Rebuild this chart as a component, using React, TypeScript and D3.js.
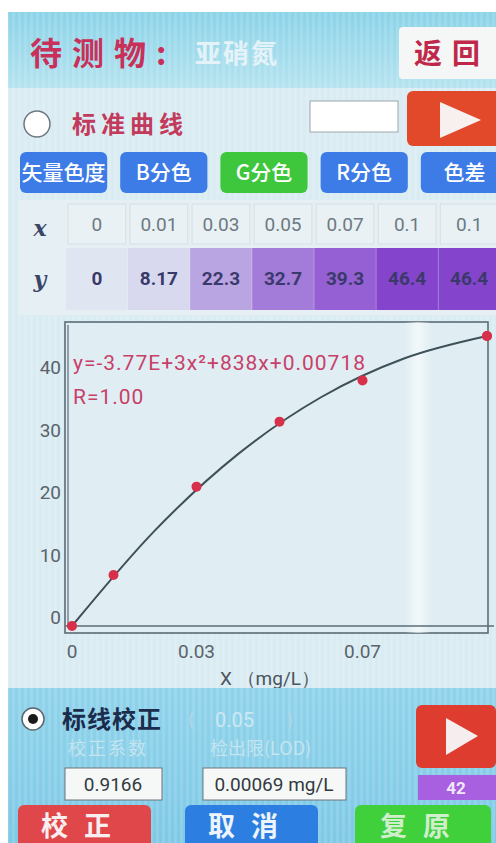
import React from 'react';
import * as d3 from 'd3';

// standard-curve data as shown in the table
const xLabels = ['0', '0.01', '0.03', '0.05', '0.07', '0.1', '0.1'];
const xValues = [0, 0.01, 0.03, 0.05, 0.07, 0.1, 0.1];
const yValues = [0, 8.17, 22.3, 32.7, 39.3, 46.4, 46.4];
const yLabels = ['0', '8.17', '22.3', '32.7', '39.3', '46.4', '46.4'];
// fitted curve
const fitX = [0, 0.02, 0.04, 0.06, 0.08, 0.1];
const fitY = [0, 15.3, 27.5, 36.6, 42.8, 46.4];
const yTicks = [0, 10, 20, 30, 40];
const xTicks = [0, 0.03, 0.07];
const modeButtons = ['矢量色度', 'B分色', 'G分色', 'R分色', '色差'];
const activeMode = 'G分色';

const CJK = '"Noto Sans CJK SC", "Noto Sans", sans-serif';
const NUM = 'Roboto, "Noto Sans", sans-serif';

const App = () => {
  const x = d3.scaleLinear().domain([0, 0.1]).range([72, 487]);
  const y = d3.scaleLinear().domain([0, 46.4]).range([626, 336]);

  const fitPts: [number, number][] = fitX.map((v, i) => [v, fitY[i]]);
  const line = d3.line<[number, number]>()
    .x(d => x(d[0]))
    .y(d => y(d[1]))
    .curve(d3.curveMonotoneX);

  // table cell columns
  const cellX = d3.scaleBand<number>().domain(d3.range(7)).range([68, 498]).paddingInner(0.07);
  const cellColor = d3.scaleLinear<string>().domain([0, 10, 46.4]).range(['#e0e6f1', '#d6d6ef', '#8444cc']);

  // mode buttons
  const btnX = d3.scaleBand<string>().domain(modeButtons).range([20, 508]).paddingInner(0.13);

  return (
    <svg width={496} height={843} style={{ position: 'absolute', left: 0, top: 0 }}>
      <defs>
        <pattern id="stripes" width="6" height="10" patternUnits="userSpaceOnUse">
          <rect width="3" height="10" fill="#ffffff" opacity="0.12" />
        </pattern>
        <linearGradient id="hdr" x1="0" y1="0" x2="0" y2="1">
          <stop offset="0" stopColor="#8bd3e8" />
          <stop offset="1" stopColor="#b5e3ef" />
        </linearGradient>
        <linearGradient id="bottom" x1="0" y1="0" x2="0" y2="1">
          <stop offset="0" stopColor="#8fd3ea" />
          <stop offset="1" stopColor="#7fc9e6" />
        </linearGradient>
        <linearGradient id="glare" x1="0" y1="0" x2="1" y2="0">
          <stop offset="0" stopColor="#ffffff" stopOpacity="0" />
          <stop offset="0.5" stopColor="#ffffff" stopOpacity="0.6" />
          <stop offset="1" stopColor="#ffffff" stopOpacity="0" />
        </linearGradient>
      </defs>

      <rect width={496} height={843} fill="#ffffff" />
      {/* app background */}
      <rect x={8} y={12} width={488} height={831} fill="#d9ecf2" />
      <rect x={8} y={12} width={488} height={831} fill="url(#stripes)" />

      {/* header */}
      <rect x={8} y={12} width={488} height={76} fill="url(#hdr)" />
      <rect x={8} y={12} width={488} height={76} fill="url(#stripes)" />
      <text x={30} y={65} fontFamily={CJK} fontSize={32} fontWeight={700} fill="#c8305a" letterSpacing={10}>待测物:</text>
      <text x={195} y={63} fontFamily={CJK} fontSize={26} fontWeight={700} fill="#e4f3f8" letterSpacing={2}>亚硝氮</text>
      <rect x={399} y={27} width={100} height={52} rx={4} fill="#f5f7f7" />
      <text x={414} y={64} fontFamily={CJK} fontSize={28} fontWeight={700} fill="#c0284a" letterSpacing={10}>返回</text>

      {/* standard curve row */}
      <circle cx={37} cy={124} r={13} fill="#ffffff" stroke="#707880" strokeWidth={1.5} />
      <text x={72} y={133} fontFamily={CJK} fontSize={24} fontWeight={700} fill="#c23a5c" letterSpacing={5}>标准曲线</text>
      <rect x={310} y={101} width={88} height={31} fill="#ffffff" stroke="#9aa6ac" strokeWidth={1} />
      <rect x={407} y={91} width={95} height={55} rx={6} fill="#e2482a" />
      <path d="M440,102 L481,120 L440,138 Z" fill="#f8f0ee" />

      {/* mode buttons */}
      {modeButtons.map(b => (
        <g key={b}>
          <rect x={btnX(b)} y={152} width={btnX.bandwidth()} height={41} rx={6}
            fill={b === activeMode ? '#3ec63c' : '#3d7be6'} />
          <text x={(btnX(b) as number) + btnX.bandwidth() / 2} y={180} textAnchor="middle"
            fontFamily={CJK} fontSize={21} fontWeight={500} fill="#ffffff">{b}</text>
        </g>
      ))}

      {/* data table */}
      <rect x={18} y={200} width={478} height={115} fill="#e6eff3" />
      <text x={40} y={236} textAnchor="middle" fontFamily='"DejaVu Serif", serif' fontStyle="italic" fontWeight={700} fontSize={22} fill="#3a4668">x</text>
      <text x={40} y={287} textAnchor="middle" fontFamily='"DejaVu Serif", serif' fontStyle="italic" fontWeight={700} fontSize={22} fill="#3a4668">y</text>
      {xLabels.map((t, i) => (
        <g key={'x' + i}>
          <rect x={cellX(i)} y={204} width={cellX.bandwidth()} height={40} fill="#e9f1f4" stroke="#d6e0e4" />
          <text x={(cellX(i) as number) + cellX.bandwidth() / 2} y={231} textAnchor="middle"
            fontFamily={NUM} fontSize={19} fill="#6c7a82">{t}</text>
        </g>
      ))}
      {yValues.map((v, i) => (
        <g key={'y' + i}>
          <rect x={(cellX(i) as number) - 2} y={248} width={cellX.bandwidth() + 4} height={62} fill={cellColor(v)} />
          <text x={(cellX(i) as number) + cellX.bandwidth() / 2} y={285} textAnchor="middle"
            fontFamily={NUM} fontSize={19} fontWeight={700} fill="#3a3a6a">{yLabels[i]}</text>
        </g>
      ))}

      {/* chart panel */}
      <rect x={65} y={322} width={423} height={311} fill="#e0eef3" stroke="#5c6c76" strokeWidth={1.6} />
      <rect x={405} y={322} width={26} height={311} fill="url(#glare)" />
      <line x1={68} x2={68} y1={325} y2={628} stroke="#5c6c76" strokeWidth={1.2} />
      <line x1={65} x2={494} y1={y(0)} y2={y(0)} stroke="#5c6c76" strokeWidth={1.6} />
      {yTicks.map(t => (
        <text key={t} x={61} y={y(t) - 2} textAnchor="end" fontFamily={NUM} fontSize={19} fill="#5a636b">{t}</text>
      ))}
      {xTicks.map(t => (
        <text key={t} x={x(t)} y={658} textAnchor="middle" fontFamily={NUM} fontSize={19} fill="#5a636b">{t}</text>
      ))}
      <text x={270} y={685} textAnchor="middle" fontFamily={NUM} fontSize={19} fill="#4c555d">X （mg/L）</text>

      <path d={line(fitPts) ?? ''} fill="none" stroke="#3e5058" strokeWidth={2} />
      {xValues.map((v, i) => (
        <circle key={i} cx={x(v)} cy={y(yValues[i])} r={5} fill="#d8304a" />
      ))}
      <text x={73} y={370} fontFamily={NUM} fontSize={21} fill="#c8406a" letterSpacing={1}>y=-3.77E+3x²+838x+0.00718</text>
      <text x={73} y={404} fontFamily={NUM} fontSize={21} fill="#c8406a" letterSpacing={1}>R=1.00</text>

      {/* correction section */}
      <rect x={8} y={688} width={488} height={155} fill="url(#bottom)" />
      <rect x={8} y={688} width={488} height={155} fill="url(#stripes)" />
      <circle cx={33} cy={719} r={11} fill="#ffffff" stroke="#5c6670" strokeWidth={1.5} />
      <circle cx={33} cy={719} r={5} fill="#1a1a1a" />
      <text x={62} y={728} fontFamily={CJK} fontSize={24} fontWeight={700} fill="#1c2c4c" letterSpacing={1}>标线校正</text>
      <text x={188} y={726} fontFamily={CJK} fontSize={18} fill="#b8d8e6">(</text>
      <text x={215} y={727} fontFamily={NUM} fontSize={20} fill="#cde8f2">0.05</text>
      <text x={287} y={726} fontFamily={CJK} fontSize={18} fill="#b8d8e6">)</text>
      <text x={68} y={755} fontFamily={CJK} fontSize={18} fill="#c4e4ef" letterSpacing={2}>校正系数</text>
      <text x={210} y={755} fontFamily={CJK} fontSize={18} fill="#c4e4ef">检出限(LOD)</text>
      <rect x={65} y={768} width={97} height={32} fill="#f6f8f8" stroke="#6a747a" />
      <text x={113} y={791} textAnchor="middle" fontFamily={NUM} fontSize={19} fill="#333a40">0.9166</text>
      <rect x={203} y={768} width={143} height={32} fill="#f6f8f8" stroke="#6a747a" />
      <text x={274} y={791} textAnchor="middle" fontFamily={NUM} fontSize={19} fill="#333a40">0.00069 mg/L</text>
      <rect x={416} y={705} width={80} height={63} rx={6} fill="#de3c2e" />
      <path d="M446,718 L478,736 L446,755 Z" fill="#f6eeee" />
      <rect x={418} y={775} width={80} height={25} fill="#a85fe0" />
      <text x={456} y={794} textAnchor="middle" fontFamily={NUM} fontSize={17} fontWeight={700} fill="#f0e8fa">42</text>

      <rect x={18} y={805} width={133} height={45} rx={6} fill="#e0474a" />
      <text x={84} y={836} textAnchor="middle" fontFamily={CJK} fontSize={27} fontWeight={700} fill="#f8eef0" letterSpacing={16}>校正</text>
      <rect x={185} y={805} width={133} height={45} rx={6} fill="#2c7fe0" />
      <text x={251} y={836} textAnchor="middle" fontFamily={CJK} fontSize={27} fontWeight={700} fill="#eef4fc" letterSpacing={16}>取消</text>
      <rect x={355} y={805} width={136} height={45} rx={6} fill="#3fd03c" />
      <text x={423} y={836} textAnchor="middle" fontFamily={CJK} fontSize={27} fontWeight={700} fill="#cfeecb" letterSpacing={16}>复原</text>
    </svg>
  );
};

export default App;
